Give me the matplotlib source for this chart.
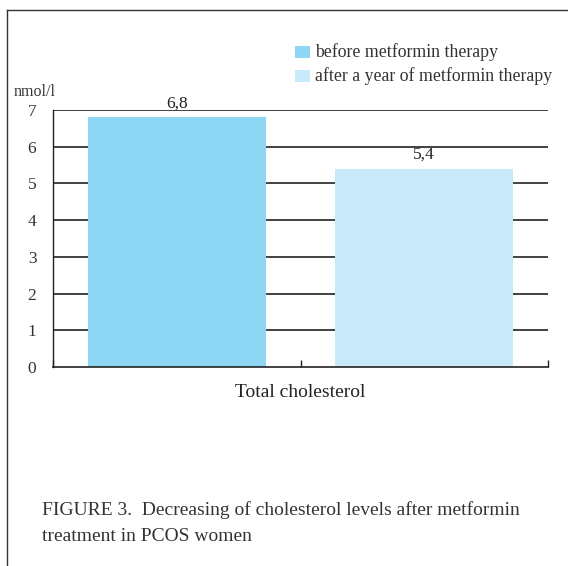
import matplotlib
matplotlib.use("Agg")
import matplotlib.pyplot as plt
from matplotlib.patches import Rectangle
from matplotlib.lines import Line2D

plt.rcParams['font.family'] = ['Liberation Serif', 'DejaVu Serif']

category = "Total cholesterol"
series_names = ["before metformin therapy", "after a year of metformin therapy"]
values = [6.8, 5.4]
value_labels = ["6,8", "5,4"]
colors = ["#8ed7f4", "#c7e9f8"]
yticks = [0, 1, 2, 3, 4, 5, 6, 7]
unit = "nmol/l"
caption = "FIGURE 3.  Decreasing of cholesterol levels after metformin\ntreatment in PCOS women"

W, H = 568, 566
fig = plt.figure(figsize=(W/100, H/100), dpi=100)

# outer frame (top and left)
fig.add_artist(Line2D([7/W, 7/W], [0, 1 - 10/H], transform=fig.transFigure, color="#333333", lw=1.0))
fig.add_artist(Line2D([7/W, 1], [1 - 10/H, 1 - 10/H], transform=fig.transFigure, color="#333333", lw=1.0))

x0, x1 = 53, 548
y0, y1 = 367, 110
ax = fig.add_axes([x0/W, 1 - y0/H, (x1 - x0)/W, (y0 - y1)/H])
ax.set_xlim(0, 2)
ax.set_ylim(0, 7)

for i, (v, c, lab) in enumerate(zip(values, colors, value_labels)):
    ax.bar(i + 0.5, v, width=0.72, color=c, zorder=2)
    ax.text(i + 0.5, v + 0.27, lab, ha="center", va="baseline", fontsize=12.5, color="#222222")

for y in yticks[1:]:
    ax.axhline(y, color="#222222", lw=1.2, zorder=1)

for s in ["top", "right"]:
    ax.spines[s].set_visible(False)
ax.spines["left"].set_linewidth(1.0)
ax.spines["bottom"].set_linewidth(1.2)
ax.spines["left"].set_color("#222222")
ax.spines["bottom"].set_color("#222222")

ax.set_yticks(yticks)
ax.set_yticklabels([str(t) for t in yticks], fontsize=12.5, color="#333333")
ax.tick_params(axis="y", length=0, pad=12)
ax.set_xticks([0, 1, 2])
ax.set_xticklabels([])
ax.tick_params(axis="x", direction="in", length=5, width=1.0, color="#222222")

ax.text(1.0, -0.45, category, ha="center", va="top", fontsize=14, color="#222222")
fig.text(14/W, 1 - 92/H, unit, ha="left", va="center", fontsize=11.5, color="#333333")

# legend
for k, (name, c) in enumerate(zip(series_names, colors)):
    yc = 52 + k * 24
    fig.add_artist(Rectangle((295/W, 1 - (yc + 6)/H), 15/W, 12/H, transform=fig.transFigure,
                             facecolor=c, edgecolor="none"))
    fig.text(315/W, 1 - yc/H, name, ha="left", va="center", fontsize=12.8, color="#333333")

fig.text(42/W, 1 - 523/H, caption, ha="left", va="center", fontsize=14, color="#333333", linespacing=1.65)

fig.savefig("out.png", dpi=100)
